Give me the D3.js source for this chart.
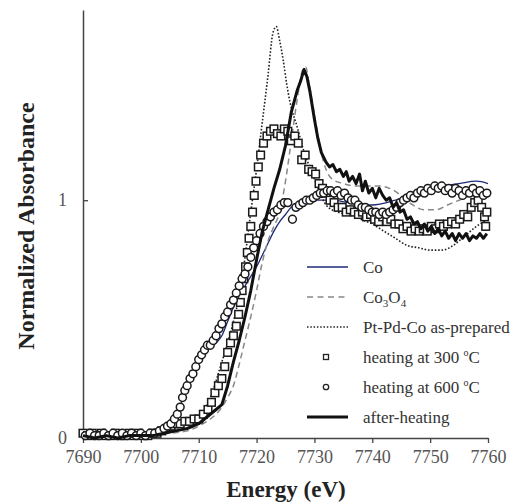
<!DOCTYPE html>
<html>
<head>
<meta charset="utf-8">
<script src="https://cdn.jsdelivr.net/npm/d3@7/dist/d3.min.js"></script>
<style>
  body { margin: 0; background: #fff; }
  text { font-family: "Liberation Serif", "Times New Roman", serif; }
</style>
</head>
<body>
<div id="chart"></div>
<script>
// x ticks / y ticks
const xTicks = [7690, 7700, 7710, 7720, 7730, 7740, 7750, 7760];
const yTicks = [0, 1];

// Co foil reference
const co = [[7690,0.01],[7700,0.01],[7703,0.02],[7705,0.04],[7706,0.07],[7706.5,0.1],[7707,0.15],[7708,0.22],[7709,0.27],[7710,0.32],[7711,0.35],[7712,0.38],[7713,0.4],[7714,0.43],[7715,0.49],[7716,0.55],[7717,0.6],[7718,0.64],[7719,0.68],[7720,0.72],[7721,0.77],[7722,0.82],[7723,0.87],[7724,0.91],[7725,0.94],[7726,0.97],[7728,0.99],[7730,1.0],[7733,1.0],[7736,0.99],[7740,0.98],[7744,1.0],[7748,1.03],[7752,1.06],[7755,1.07],[7758,1.08],[7760,1.07]];

// Co3O4 reference
const co3o4 = [[7690,0.01],[7700,0.01],[7705,0.02],[7708,0.03],[7710,0.05],[7712,0.08],[7713,0.1],[7714,0.13],[7715,0.17],[7716,0.22],[7717,0.31],[7718,0.41],[7719,0.51],[7720,0.62],[7721,0.74],[7722,0.83],[7723,0.89],[7724,0.95],[7725,1.08],[7726,1.25],[7727,1.42],[7728,1.55],[7728.5,1.56],[7729,1.5],[7730,1.36],[7731,1.22],[7732,1.13],[7733,1.09],[7735,1.07],[7737,1.06],[7739,1.06],[7741,1.06],[7743,1.05],[7745,1.02],[7747,0.98],[7749,0.96],[7751,0.96],[7753,0.98],[7755,1.0],[7757,1.02],[7760,1.03]];

// Pt-Pd-Co as-prepared
const asPrepared = [[7690,0.01],[7700,0.01],[7703,0.02],[7705,0.03],[7707,0.05],[7709,0.07],[7710,0.09],[7711,0.12],[7712,0.17],[7713,0.24],[7714,0.32],[7715,0.4],[7716,0.49],[7717,0.6],[7718,0.76],[7719,0.95],[7720,1.13],[7721,1.33],[7722,1.53],[7722.8,1.7],[7723.4,1.73],[7724,1.67],[7724.6,1.59],[7725.2,1.49],[7725.8,1.41],[7727,1.31],[7728,1.22],[7729,1.15],[7730,1.09],[7731,1.03],[7732,0.98],[7734,0.95],[7736,0.94],[7738,0.92],[7740,0.9],[7742,0.87],[7744,0.84],[7746,0.81],[7748,0.8],[7750,0.79],[7752,0.79],[7754,0.81],[7756,0.85],[7758,0.89],[7760,0.92]];

// heating at 300 C (squares)
const heat300 = [[7690,0.02],[7690.8,0.01],[7691.6,0.02],[7692.4,0.01],[7693.2,0.02],[7694,0.01],[7694.8,0.01],[7695.6,0.02],[7696.4,0.01],[7697.2,0.01],[7698,0.02],[7698.8,0.01],[7699.6,0.02],[7700.4,0.01],[7701.2,0.01],[7702,0.02],[7702.8,0.02],[7703.6,0.03],[7704.4,0.04],[7705.2,0.05],[7706,0.06],[7706.8,0.06],[7707.6,0.07],[7708.4,0.07],[7709.2,0.08],[7710,0.08],[7710.8,0.1],[7711.6,0.12],[7712.2,0.15],[7712.8,0.19],[7713.4,0.22],[7714,0.25],[7714.5,0.3],[7715,0.36],[7715.5,0.4],[7716,0.43],[7716.5,0.47],[7716.9,0.52],[7717.2,0.57],[7717.5,0.62],[7717.8,0.67],[7718.1,0.72],[7718.4,0.78],[7718.7,0.84],[7719,0.89],[7719.3,0.95],[7719.6,1.02],[7719.9,1.08],[7720.3,1.14],[7720.7,1.19],[7721.2,1.24],[7721.8,1.27],[7722.4,1.29],[7723,1.3],[7723.6,1.28],[7724.2,1.27],[7724.8,1.3],[7725.4,1.29],[7726,1.25],[7726.6,1.27],[7727.2,1.24],[7727.8,1.17],[7728.4,1.19],[7729,1.13],[7729.6,1.12],[7730.2,1.11],[7730.8,1.07],[7731.4,1.05],[7732,1.03],[7732.7,1.0],[7733.4,0.99],[7734.1,0.97],[7734.8,0.97],[7735.5,0.95],[7736.2,0.96],[7736.9,0.95],[7737.6,0.94],[7738.3,0.95],[7739,0.93],[7739.7,0.94],[7740.4,0.92],[7741.1,0.91],[7741.8,0.93],[7742.5,0.91],[7743.2,0.92],[7743.9,0.9],[7744.6,0.9],[7745.3,0.88],[7746,0.89],[7746.7,0.87],[7747.4,0.88],[7748.1,0.87],[7748.8,0.88],[7749.5,0.87],[7750.2,0.89],[7750.9,0.88],[7751.6,0.9],[7752.3,0.89],[7753,0.9],[7753.7,0.91],[7754.4,0.9],[7755.1,0.92],[7755.8,0.94],[7756.5,0.93],[7757.1,0.97],[7757.7,0.99],[7758.3,1.0],[7758.9,0.97],[7759.4,0.93],[7759.8,0.95],[7759.6,0.89]];

// heating at 600 C (circles)
const heat600 = [[7690.4,0.01],[7691.2,0.02],[7692,0.01],[7692.8,0.01],[7693.6,0.02],[7694.4,0.01],[7695.2,0.02],[7696,0.01],[7696.8,0.02],[7697.6,0.01],[7698.4,0.02],[7699.2,0.01],[7700,0.02],[7700.8,0.01],[7701.6,0.02],[7702.4,0.02],[7703.2,0.03],[7704,0.04],[7704.6,0.05],[7705.2,0.06],[7705.8,0.08],[7706.3,0.1],[7706.8,0.13],[7707.2,0.17],[7707.6,0.2],[7708,0.22],[7708.5,0.25],[7709,0.27],[7709.5,0.3],[7710,0.33],[7710.5,0.35],[7711,0.37],[7711.5,0.39],[7712,0.39],[7712.5,0.41],[7713,0.43],[7713.5,0.46],[7714,0.48],[7714.5,0.51],[7715,0.53],[7715.5,0.56],[7716,0.58],[7716.5,0.61],[7717,0.64],[7717.5,0.67],[7718,0.69],[7718.5,0.72],[7719,0.76],[7719.5,0.8],[7720,0.83],[7720.6,0.86],[7721.2,0.89],[7721.8,0.91],[7722.4,0.93],[7723,0.95],[7723.6,0.96],[7724.2,0.98],[7724.8,0.99],[7725.4,0.99],[7726.2,0.92],[7726.8,0.97],[7727.4,0.98],[7728,0.99],[7728.6,1.0],[7729.2,1.0],[7729.8,1.01],[7730.4,1.02],[7731,1.03],[7731.6,1.03],[7732.2,1.04],[7732.8,1.04],[7733.4,1.03],[7734,1.04],[7734.6,1.02],[7735.2,1.03],[7735.8,1.01],[7736.4,1.0],[7737,1.0],[7737.6,0.98],[7738.2,0.97],[7738.8,0.97],[7739.4,0.96],[7740,0.95],[7740.6,0.95],[7741.2,0.94],[7741.8,0.95],[7742.4,0.94],[7743,0.95],[7743.6,0.96],[7744.2,0.97],[7744.8,0.99],[7745.4,1.0],[7746,1.01],[7746.6,1.02],[7747.2,1.01],[7747.8,1.03],[7748.4,1.04],[7749,1.03],[7749.6,1.05],[7750.2,1.04],[7750.8,1.06],[7751.4,1.05],[7752,1.06],[7752.6,1.04],[7753.2,1.05],[7753.8,1.03],[7754.4,1.05],[7755,1.04],[7755.6,1.02],[7756.2,1.04],[7756.8,1.03],[7757.4,1.05],[7758,1.03],[7758.6,1.04],[7759.2,1.02],[7759.8,1.03]];

// after-heating
const afterHeating = [[7690,0.01],[7692,0.0],[7694,0.01],[7696,0.0],[7698,0.01],[7700,0.01],[7702,0.01],[7704,0.02],[7706,0.03],[7708,0.04],[7710,0.06],[7711,0.08],[7712,0.1],[7713,0.12],[7714,0.14],[7715,0.22],[7716,0.32],[7717,0.41],[7718,0.51],[7719,0.62],[7720,0.75],[7721,0.87],[7722,0.96],[7723,1.05],[7724,1.13],[7725,1.23],[7726,1.37],[7727,1.46],[7727.6,1.5],[7728.2,1.55],[7728.7,1.52],[7729.2,1.46],[7730,1.34],[7730.6,1.26],[7731.2,1.2],[7732,1.16],[7732.6,1.14],[7733.2,1.15],[7733.8,1.12],[7734.4,1.13],[7735,1.1],[7735.5,1.12],[7736,1.08],[7736.6,1.1],[7737.2,1.07],[7737.8,1.11],[7738.3,1.04],[7738.8,1.08],[7739.4,1.03],[7740,1.05],[7740.6,1.01],[7741.2,1.05],[7741.8,1.02],[7742.4,1.0],[7743,1.01],[7743.6,0.97],[7744.2,0.99],[7744.8,0.95],[7745.4,0.96],[7746,0.92],[7746.6,0.93],[7747.2,0.9],[7747.8,0.91],[7748.4,0.88],[7749,0.9],[7749.6,0.87],[7750.2,0.89],[7750.8,0.86],[7751.4,0.88],[7752,0.85],[7752.6,0.87],[7753.2,0.84],[7753.8,0.86],[7754.4,0.83],[7755,0.86],[7755.6,0.84],[7756.2,0.86],[7756.8,0.83],[7757.4,0.85],[7758,0.84],[7758.6,0.86],[7759.2,0.84],[7759.8,0.86]];

const width = 517;
const height = 504;
const margin = { top: 10, left: 83, bottom: 66, right: 29 };
const iwidth = width - margin.left - margin.right;
const iheight = height - margin.top - margin.bottom;

const svg = d3.select("#chart").append("svg")
  .attr("width", width)
  .attr("height", height);

const g = svg.append("g")
  .attr("transform", `translate(${margin.left},${margin.top})`);

const x = d3.scaleLinear().domain([7690, 7760]).range([0, iwidth]);
const y = d3.scaleLinear().domain([0, 1.8]).range([iheight, 0]);

const axisColor = "#444";
const serif = "Liberation Serif, Times New Roman, serif";

// axes
const xAxis = g.append("g")
  .attr("transform", `translate(0,${iheight})`)
  .call(d3.axisBottom(x).tickValues(xTicks).tickFormat(d3.format("d")).tickSize(5).tickSizeOuter(0));
xAxis.select(".domain").attr("stroke", axisColor).attr("stroke-width", 1.5);
xAxis.selectAll(".tick line").attr("stroke", axisColor).attr("stroke-width", 1.3);
xAxis.selectAll(".tick text")
  .attr("font-family", serif)
  .attr("font-size", 18).attr("fill", "#555").attr("dy", "0.95em");

const yAxis = g.append("g")
  .call(d3.axisLeft(y).tickValues(yTicks).tickFormat(d3.format("d")).tickSize(0).tickSizeOuter(0).tickPadding(16));
yAxis.select(".domain").attr("stroke", axisColor).attr("stroke-width", 1.5);
yAxis.selectAll(".tick line").remove();
yAxis.selectAll(".tick").append("line")
  .attr("x1", 0).attr("x2", 5)
  .attr("stroke", axisColor).attr("stroke-width", 1.3);
yAxis.selectAll(".tick text")
  .attr("font-family", serif)
  .attr("font-size", 18).attr("fill", "#555");

// axis titles
svg.append("text")
  .attr("transform", `translate(34,226) rotate(-90)`)
  .attr("text-anchor", "middle")
  .attr("font-size", 24).attr("font-weight", "bold").attr("fill", "#222")
  .text("Normalized Absorbance");

svg.append("text")
  .attr("x", 286).attr("y", 497)
  .attr("text-anchor", "middle")
  .attr("font-size", 23).attr("font-weight", "bold").attr("fill", "#222")
  .text("Energy (eV)");

const line = d3.line().x(d => x(d[0])).y(d => y(d[1]));
const smooth = d3.line().x(d => x(d[0])).y(d => y(d[1])).curve(d3.curveMonotoneX);

// reference lines
g.append("path").datum(co).attr("d", smooth)
  .attr("fill", "none").attr("stroke", "#1c2a7a").attr("stroke-width", 1.3);
g.append("path").datum(co3o4).attr("d", smooth)
  .attr("fill", "none").attr("stroke", "#888").attr("stroke-width", 1.5).attr("stroke-dasharray", "6,4");
g.append("path").datum(asPrepared).attr("d", smooth)
  .attr("fill", "none").attr("stroke", "#222").attr("stroke-width", 1.6).attr("stroke-dasharray", "1.6,1.8");

// markers
g.selectAll("rect.sq").data(heat300).enter().append("rect")
  .attr("class", "sq")
  .attr("x", d => x(d[0]) - 3.8).attr("y", d => y(d[1]) - 3.8)
  .attr("width", 7.6).attr("height", 7.6)
  .attr("fill", "#fff").attr("stroke", "#1a1a1a").attr("stroke-width", 1.5);

g.selectAll("circle.ci").data(heat600).enter().append("circle")
  .attr("class", "ci")
  .attr("cx", d => x(d[0])).attr("cy", d => y(d[1])).attr("r", 3.9)
  .attr("fill", "#fff").attr("stroke", "#1a1a1a").attr("stroke-width", 1.5);

g.append("path").datum(afterHeating).attr("d", line)
  .attr("fill", "none").attr("stroke", "#111").attr("stroke-width", 3).attr("stroke-linejoin", "round");

// legend
const legendItems = [
  { key: "co", label: "Co" },
  { key: "co3o4", label: "Co3O4" },
  { key: "prep", label: "Pt-Pd-Co as-prepared" },
  { key: "h300", label: "heating at 300 °C" },
  { key: "h600", label: "heating at 600 °C" },
  { key: "after", label: "after-heating" }
];

const legend = svg.append("g");
legendItems.forEach((item, i) => {
  const ly = 267 + i * 30;
  const row = legend.append("g");
  if (item.key === "co") {
    row.append("line").attr("x1", 307).attr("x2", 348).attr("y1", ly).attr("y2", ly)
      .attr("stroke", "#1c2a7a").attr("stroke-width", 1.5);
  } else if (item.key === "co3o4") {
    row.append("line").attr("x1", 307).attr("x2", 348).attr("y1", ly).attr("y2", ly)
      .attr("stroke", "#888").attr("stroke-width", 1.5).attr("stroke-dasharray", "6,4.5");
  } else if (item.key === "prep") {
    row.append("line").attr("x1", 307).attr("x2", 348).attr("y1", ly).attr("y2", ly)
      .attr("stroke", "#222").attr("stroke-width", 1.5).attr("stroke-dasharray", "1.5,1.8");
  } else if (item.key === "h300") {
    row.append("rect").attr("x", 323.5).attr("y", ly - 2.5).attr("width", 5).attr("height", 5)
      .attr("fill", "#fff").attr("stroke", "#222").attr("stroke-width", 1.3);
  } else if (item.key === "h600") {
    row.append("circle").attr("cx", 326).attr("cy", ly).attr("r", 2.7)
      .attr("fill", "#fff").attr("stroke", "#222").attr("stroke-width", 1.3);
  } else {
    row.append("line").attr("x1", 307).attr("x2", 348).attr("y1", ly).attr("y2", ly)
      .attr("stroke", "#111").attr("stroke-width", 3);
  }
  const t = row.append("text").attr("x", 363).attr("y", ly + 5.5)
    .attr("font-size", 17).attr("fill", "#333");
  if (item.key === "co3o4") {
    t.append("tspan").text("Co");
    t.append("tspan").attr("font-size", 11).attr("dy", 4).text("3");
    t.append("tspan").attr("dy", -4).text("O");
    t.append("tspan").attr("font-size", 11).attr("dy", 4).text("4");
  } else if (item.key === "h300" || item.key === "h600") {
    const temp = item.key === "h300" ? "300" : "600";
    t.append("tspan").text(`heating at ${temp} `);
    t.append("tspan").attr("font-size", 10).attr("dy", -7).text("o");
    t.append("tspan").attr("dy", 7).text("C");
  } else {
    t.text(item.label);
  }
});
</script>
</body>
</html>
